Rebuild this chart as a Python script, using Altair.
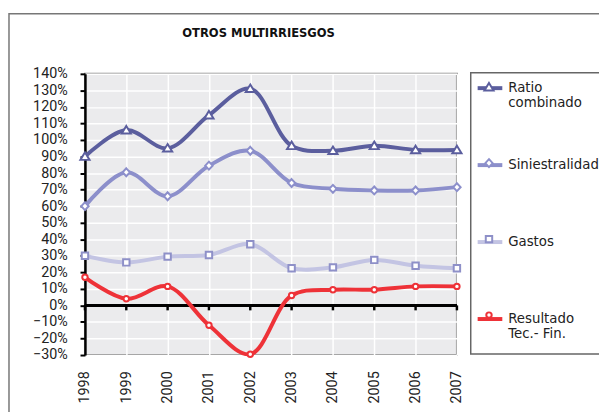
import altair as alt
import pandas as pd

years = ["1998", "1999", "2000", "2001", "2002", "2003", "2004", "2005", "2006", "2007"]
series = ["Ratio combinado", "Siniestralidad", "Gastos", "Resultado Tec.- Fin."]
ratio_combinado = [90, 106, 95, 115, 131, 96.5, 93.5, 96.5, 94, 94]
siniestralidad = [60, 80.5, 66, 84.5, 93.5, 74, 70.5, 69.5, 69.5, 71.5]
gastos = [30, 26, 29.5, 30.5, 37, 22.5, 23, 27.5, 24, 22.5]
resultado = [17, 4, 11.5, -12, -29.5, 6, 9.5, 9.5, 11.5, 11.5]
y_ticks = [v / 100 for v in range(-30, 141, 10)]

line_colors = ["#5B5E9E", "#8C8FCB", "#C3C4E3", "#EE3238"]
marker_colors = ["#5B5E9E", "#8C8FCB", "#8E90C8", "#EE3238"]
# marker outlines drawn small inside the unit square, used with a large symbol size
shapes = [
    "M0,-0.34L0.37,0.27L-0.37,0.27Z",
    "M0,-0.32L0.3,0L0,0.32L-0.3,0Z",
    "M-0.26,-0.26H0.26V0.26H-0.26Z",
    "M0.22,0A0.22,0.22,0,1,1,-0.22,0A0.22,0.22,0,1,1,0.22,0Z",
]

rows = []
for name, vals in zip(series, [ratio_combinado, siniestralidad, gastos, resultado]):
    for y, v in zip(years, vals):
        rows.append({"year": y, "serie": name, "value": v / 100})
df = pd.DataFrame(rows)
df_years = pd.DataFrame({"year": years})

W, H = 377, 285
YMIN, YMAX = -0.3, 1.4
FONT = "DejaVu Sans"
AXFONT = "Roboto"
SYM = 625

label_expr = ("datum.label == 'Ratio combinado' ? ['Ratio', 'combinado'] : "
              "datum.label == 'Resultado Tec.- Fin.' ? ['Resultado', 'Tec.- Fin.'] : datum.label")
common_leg = dict(orient="none", title=None, labelFont=FONT, labelFontSize=13.5,
                  labelColor="#222", gridAlign="all", rowPadding=41, padding=0,
                  labelLimit=300, legendX=396, legendY=0, symbolSize=SYM, labelOffset=4)

yscale = alt.Scale(domain=[YMIN, YMAX], nice=False, zero=False)
xscale = alt.Scale(type="point", padding=0)
x_axis = alt.Axis(labelAngle=270, grid=True, gridColor="white", gridWidth=1.5,
                  domain=False, ticks=False, labelPadding=16, labelFont=AXFONT,
                  labelFontSize=14.5, labelColor="#222", title=None, labelOverlap=False)
y_axis = alt.Axis(values=y_ticks, format=".0%", grid=True, gridColor="white",
                  gridWidth=1.5, domainColor="black", domainWidth=2.5,
                  tickColor="black", tickWidth=2, tickSize=5, labelFont=AXFONT,
                  labelFontSize=14.5, labelColor="#222", labelPadding=13, title=None,
                  labelOverlap=False)

X = alt.X("year:O", scale=xscale, sort=years, axis=x_axis)
Y = alt.Y("value:Q", scale=yscale, axis=y_axis)

base = alt.Chart(df)

zero_rule = alt.Chart(df_years).mark_rule(color="black", strokeWidth=2.5).encode(
    y=alt.datum(0, scale=yscale, axis=y_axis))
zero_ticks = alt.Chart(df_years).mark_tick(
    orient="vertical", size=5, thickness=2.5, yOffset=2.5, color="black", opacity=1
).encode(x=X, y=alt.datum(0, axis=y_axis))

lines = base.mark_line(interpolate="catmull-rom", strokeWidth=4).encode(
    x=X, y=Y,
    color=alt.Color("serie:N", sort=series,
                    scale=alt.Scale(domain=series, range=line_colors),
                    legend=alt.Legend(symbolType="stroke", symbolStrokeWidth=4,
                                      labelExpr=label_expr, **common_leg)),
    detail="serie:N",
)

leg_b = alt.Legend(symbolStrokeWidth=2, symbolFillColor="white",
                   labelExpr="[' ', ' ']", **common_leg)
points = base.mark_point(fill="white", strokeWidth=2, size=SYM, opacity=1).encode(
    x=X, y=Y,
    color=alt.Color("serie:N", sort=series,
                    scale=alt.Scale(domain=series, range=marker_colors), legend=leg_b),
    shape=alt.Shape("serie:N", sort=series,
                    scale=alt.Scale(domain=series, range=shapes), legend=leg_b),
)

one = alt.Data(values=[{}])
frame = alt.Chart(one).mark_rect(fillOpacity=0, stroke="#777", strokeWidth=1.5).encode(
    x=alt.value(-77), x2=alt.value(600), y=alt.value(-61), y2=alt.value(400))
legend_box = alt.Chart(one).mark_rect(fillOpacity=0, stroke="#666", strokeWidth=1.5).encode(
    x=alt.value(391), x2=alt.value(600), y=alt.value(-1), y2=alt.value(284))
title = alt.Chart(one).mark_text(font="DejaVu Sans Condensed", fontSize=13,
                                 fontWeight="bold", color="#111").encode(
    x=alt.value(176), y=alt.value(-41.5), text=alt.value("OTROS MULTIRRIESGOS"))

chart = alt.layer(frame, legend_box, title, zero_rule, zero_ticks, lines, points).resolve_scale(
    color="independent", shape="independent"
).properties(
    width=W, height=H,
    padding={"left": 78, "top": 64, "right": 144, "bottom": 55},
    autosize=alt.AutoSizeParams(type="none"),
    background="white",
).configure_view(fill="#EBEBED", stroke="#888", strokeWidth=2)

chart.save("out.html", embed_options={"renderer": "svg", "actions": False})
